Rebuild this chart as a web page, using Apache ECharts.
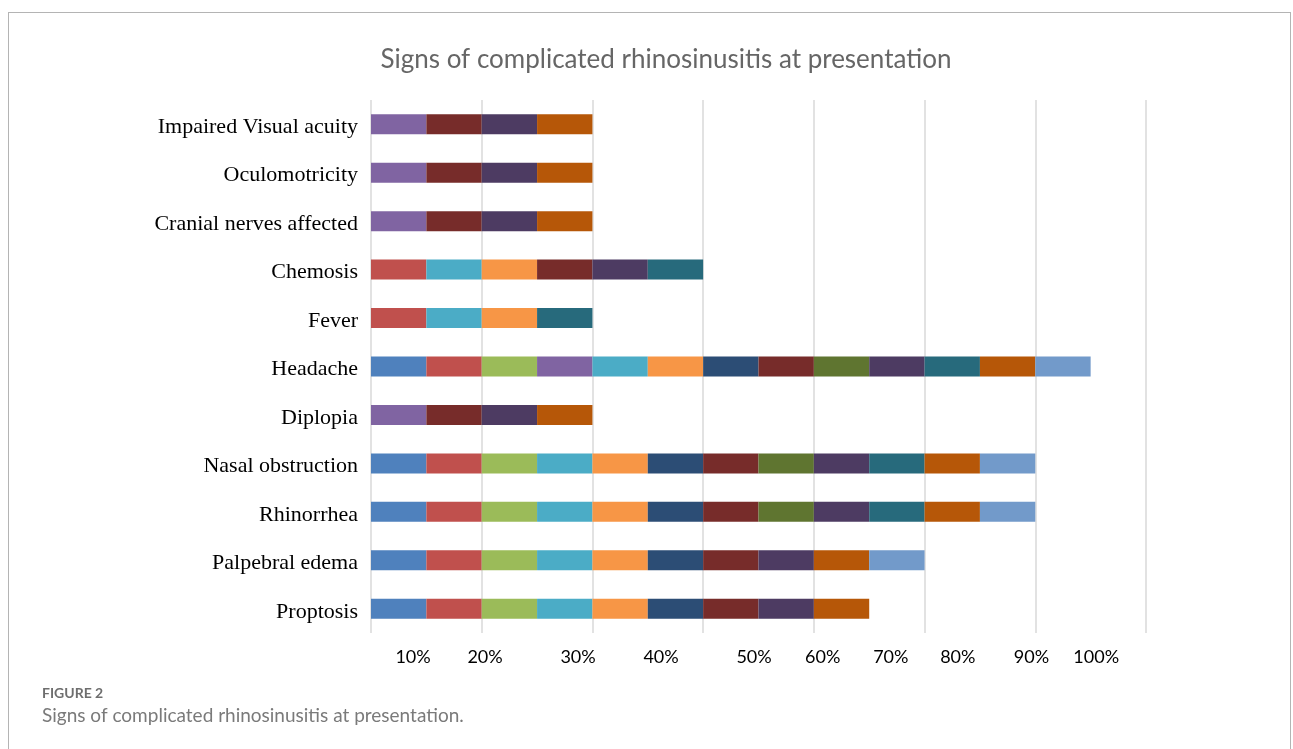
<!DOCTYPE html>
<html>
<head>
<meta charset="utf-8">
<script src="https://cdn.jsdelivr.net/npm/echarts@6/dist/echarts.min.js"></script>
<style>
  html, body { margin: 0; padding: 0; background: #fff; overflow: hidden; }
  #chart { position: absolute; left: 0; top: 0; width: 1293px; height: 749px; }
  #frame { position: absolute; left: 8px; top: 12px; width: 1283px; height: 800px;
           border: 1px solid #b4b4b4; box-sizing: border-box; pointer-events: none; }
</style>
</head>
<body>
<div id="chart"></div>
<div id="frame"></div>
<script>
// rows, bottom to top (as the category axis draws them)
const categories = [
  "Proptosis", "Palpebral edema", "Rhinorrhea", "Nasal obstruction", "Diplopia",
  "Headache", "Fever", "Chemosis", "Cranial nerves affected", "Oculomotricity",
  "Impaired Visual acuity"
];

// one segment per case, 1 = sign present
const case1 = [1, 1, 1, 1, 0, 1, 0, 0, 0, 0, 0];
const case2 = [1, 1, 1, 1, 0, 1, 1, 1, 0, 0, 0];
const case3 = [1, 1, 1, 1, 0, 1, 0, 0, 0, 0, 0];
const case4 = [0, 0, 0, 0, 1, 1, 0, 0, 1, 1, 1];
const case5 = [1, 1, 1, 1, 0, 1, 1, 1, 0, 0, 0];
const case6 = [1, 1, 1, 1, 0, 1, 1, 1, 0, 0, 0];
const case7 = [1, 1, 1, 1, 0, 1, 0, 0, 0, 0, 0];
const case8 = [1, 1, 1, 1, 1, 1, 0, 1, 1, 1, 1];
const case9 = [0, 0, 1, 1, 0, 1, 0, 0, 0, 0, 0];
const case10 = [1, 1, 1, 1, 1, 1, 0, 1, 1, 1, 1];
const case11 = [0, 0, 1, 1, 0, 1, 1, 1, 0, 0, 0];
const case12 = [1, 1, 1, 1, 1, 1, 0, 0, 1, 1, 1];
const case13 = [0, 1, 1, 1, 0, 1, 0, 0, 0, 0, 0];
const cases = [case1, case2, case3, case4, case5, case6, case7, case8, case9, case10, case11, case12, case13];

const colors = [
  "#4F81BD", "#C0504D", "#9BBB59", "#8064A2", "#4BACC6", "#F79646", "#2C4D75",
  "#772C2A", "#5F7530", "#4D3B62", "#276A7C", "#B65708", "#729ACA"
];

// the percent labels sit off the gridlines in the original
const tickLabels = ["10%", "20%", "30%", "40%", "50%", "60%", "70%", "80%", "90%", "100%"];
const tickPos = [0.76, 2.06, 3.74, 5.24, 6.92, 8.16, 9.39, 10.6, 11.93, 13.1];

const chart = echarts.init(document.getElementById("chart"));

chart.setOption({
  animation: false,
  graphic: [
    {
      type: "text", x: 666, y: 60,
      style: {
        text: "Signs of complicated rhinosinusitis at presentation",
        fill: "#666", font: "26px Lato", textAlign: "center", textVerticalAlign: "middle"
      }
    },
    {
      type: "text", left: 42, top: 686,
      style: { text: "FIGURE 2", fill: "#6e6e6e", font: "bold 14px Lato" }
    },
    {
      type: "text", left: 42, top: 706,
      style: {
        text: "Signs of complicated rhinosinusitis at presentation.",
        fill: "#7a7a7a", font: "19px Lato"
      }
    }
  ],
  grid: { left: 371, right: 147, top: 100, bottom: 116, outerBoundsMode: "none" },
  xAxis: {
    type: "value",
    min: 0,
    max: 14,
    interval: 2,
    axisLine: { show: false },
    axisTick: { show: false },
    splitLine: { lineStyle: { color: "#d9d9d9", width: 1.5 } },
    axisLabel: {
      customValues: tickPos,
      formatter: (v) => tickLabels[tickPos.indexOf(v)] || "",
      color: "#000",
      fontFamily: "Lato",
      fontSize: 18,
      margin: 15
    }
  },
  yAxis: {
    type: "category",
    data: categories,
    axisLine: { show: false },
    axisTick: { show: false },
    axisLabel: {
      color: "#000",
      fontFamily: "Liberation Serif",
      fontSize: 22,
      margin: 13,
      verticalAlign: "top",
      lineHeight: 6
    }
  },
  series: cases.map((d, i) => ({
    type: "bar",
    name: "Case " + (i + 1),
    stack: "total",
    barWidth: 20,
    itemStyle: { color: colors[i] },
    data: d.map(v => (v ? v : "-"))
  }))
});

window.addEventListener("resize", () => chart.resize());
</script>
</body>
</html>
